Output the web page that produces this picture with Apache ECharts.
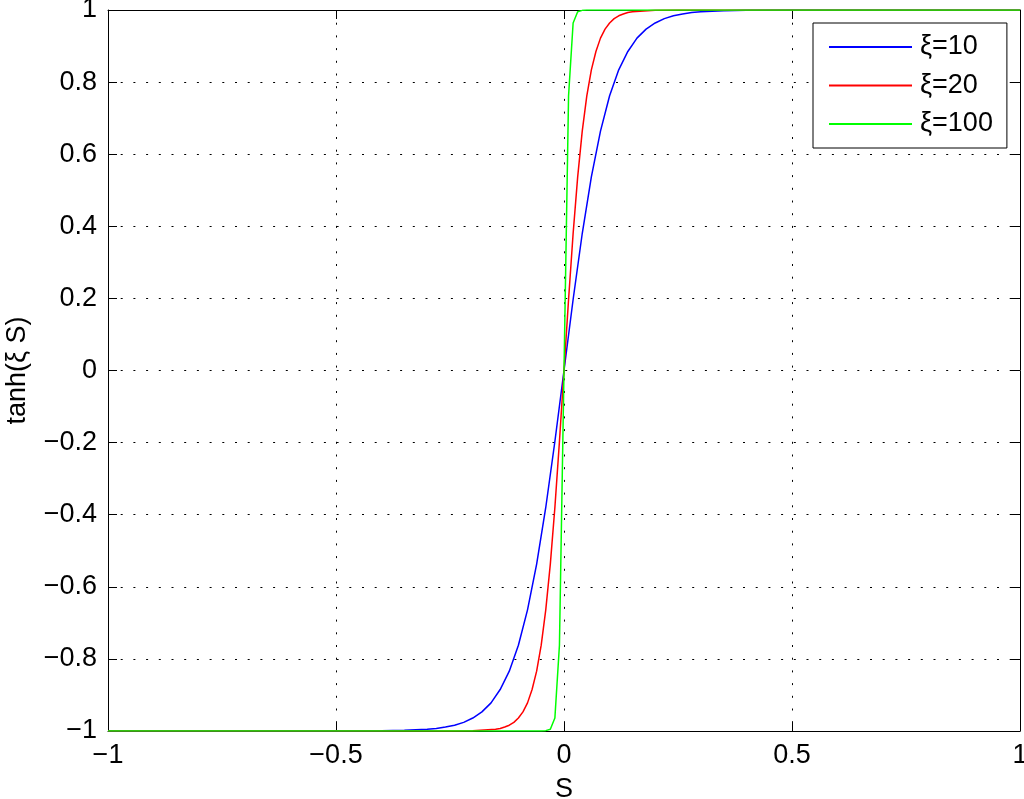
<!DOCTYPE html>
<html>
<head>
<meta charset="utf-8">
<title>tanh(ξ S)</title>
<script src="https://cdn.jsdelivr.net/npm/echarts@6/dist/echarts.min.js"></script>
<style>
  html, body { margin: 0; padding: 0; background: #fff; }
  #chart { width: 1024px; height: 799px; }
</style>
</head>
<body>
<div id="chart"></div>
<script>
// values (S, tanh(xi S))
let s10 = [-1, -0.5, -0.4, -0.35, -0.3, -0.28, -0.26, -0.24, -0.22, -0.2, -0.18, -0.16, -0.14, -0.12, -0.1, -0.08, -0.06, -0.04, -0.02, 0,
           0.02, 0.04, 0.06, 0.08, 0.1, 0.12, 0.14, 0.16, 0.18, 0.2, 0.22, 0.24, 0.26, 0.28, 0.3, 0.35, 0.4, 0.5, 1];
let y10 = [-1, -1, -0.999, -0.998, -0.995, -0.993, -0.989, -0.984, -0.976, -0.964, -0.947, -0.922, -0.885, -0.834, -0.762, -0.664, -0.537, -0.38, -0.197, 0,
           0.197, 0.38, 0.537, 0.664, 0.762, 0.834, 0.885, 0.922, 0.947, 0.964, 0.976, 0.984, 0.989, 0.993, 0.995, 0.998, 0.999, 1, 1];

let s20 = [-1, -0.25, -0.2, -0.15, -0.14, -0.13, -0.12, -0.11, -0.1, -0.09, -0.08, -0.07, -0.06, -0.05, -0.04, -0.03, -0.02, -0.01, 0,
           0.01, 0.02, 0.03, 0.04, 0.05, 0.06, 0.07, 0.08, 0.09, 0.1, 0.11, 0.12, 0.13, 0.14, 0.15, 0.2, 0.25, 1];
let y20 = [-1, -1, -0.999, -0.995, -0.993, -0.989, -0.984, -0.976, -0.964, -0.947, -0.922, -0.885, -0.834, -0.762, -0.664, -0.537, -0.38, -0.197, 0,
           0.197, 0.38, 0.537, 0.664, 0.762, 0.834, 0.885, 0.922, 0.947, 0.964, 0.976, 0.984, 0.989, 0.993, 0.995, 0.999, 1, 1];

let s100 = [-1, -0.05, -0.04, -0.03, -0.02, -0.01, 0, 0.01, 0.02, 0.03, 0.04, 0.05, 1];
let y100 = [-1, -1, -0.999, -0.995, -0.964, -0.762, 0, 0.762, 0.964, 0.995, 0.999, 1, 1];

let seriesNames = ['ξ=10', 'ξ=20', 'ξ=100'];
let seriesColors = ['#0000ff', '#ff0000', '#00ff00'];

let font = "'Liberation Sans', Arial, Helvetica, sans-serif";

function pairs(xs, ys) {
    let out = [];
    for (let i = 0; i < xs.length; i++) {
        out.push([xs[i], ys[i]]);
    }
    return out;
}

function tickText(v) {
    let t = String(Math.round(v * 10) / 10);
    return t.replace('-', '\u2212');
}

let chart = echarts.init(document.getElementById('chart'));

let dotted = { color: '#000', width: 1, type: [2, 10.7] };
let tickStyle = { inside: true, length: 9, lineStyle: { color: '#000', width: 1 } };
let lineStyleAxis = { show: true, onZero: false, lineStyle: { color: '#000', width: 1 } };
let labelStyle = { color: '#000', fontSize: 27, fontFamily: font, formatter: tickText };

let option = {
    backgroundColor: '#fff',
    animation: false,
    grid: { left: 108, right: 4, top: 10, bottom: 68, show: false, containLabel: false, outerBoundsMode: 'none' },
    legend: {
        orient: 'vertical',
        left: 813,
        top: 23,
        data: seriesNames,
        icon: 'rect',
        itemWidth: 83,
        itemHeight: 2,
        itemGap: 11.5,
        padding: [10.5, 14, 10.5, 16],
        backgroundColor: '#fff',
        borderColor: '#000',
        borderWidth: 1,
        borderRadius: 0,
        textStyle: { color: '#000', fontSize: 27, fontFamily: font, lineHeight: 27, padding: [0, 0, 0, 3] }
    },
    xAxis: [{
        type: 'value',
        min: -1,
        max: 1,
        interval: 0.5,
        name: 'S',
        nameLocation: 'middle',
        nameGap: 45,
        nameTextStyle: { color: '#000', fontSize: 27, fontFamily: font },
        axisLine: lineStyleAxis,
        axisTick: tickStyle,
        axisLabel: Object.assign({ margin: 11 }, labelStyle),
        splitLine: { show: true, lineStyle: dotted }
    }, {
        type: 'value',
        position: 'top',
        min: -1,
        max: 1,
        interval: 0.5,
        axisLine: lineStyleAxis,
        axisTick: tickStyle,
        axisLabel: { show: false },
        splitLine: { show: false }
    }],
    yAxis: [{
        type: 'value',
        min: -1,
        max: 1,
        interval: 0.2,
        name: 'tanh(ξ S)',
        nameLocation: 'middle',
        nameGap: 77,
        nameTextStyle: { color: '#000', fontSize: 27, fontFamily: font },
        axisLine: lineStyleAxis,
        axisTick: tickStyle,
        axisLabel: Object.assign({ margin: 11 }, labelStyle),
        splitLine: { show: true, lineStyle: dotted }
    }, {
        type: 'value',
        position: 'right',
        min: -1,
        max: 1,
        interval: 0.2,
        axisLine: lineStyleAxis,
        axisTick: tickStyle,
        axisLabel: { show: false },
        splitLine: { show: false }
    }],
    series: [
        { name: seriesNames[0], type: 'line', data: pairs(s10, y10), symbol: 'none', smooth: false,
          lineStyle: { color: seriesColors[0], width: 1.5 }, itemStyle: { color: seriesColors[0] } },
        { name: seriesNames[1], type: 'line', data: pairs(s20, y20), symbol: 'none', smooth: false,
          lineStyle: { color: seriesColors[1], width: 1.5 }, itemStyle: { color: seriesColors[1] } },
        { name: seriesNames[2], type: 'line', data: pairs(s100, y100), symbol: 'none', smooth: false,
          lineStyle: { color: seriesColors[2], width: 1.5 }, itemStyle: { color: seriesColors[2] } }
    ]
};

chart.setOption(option);
</script>
</body>
</html>
